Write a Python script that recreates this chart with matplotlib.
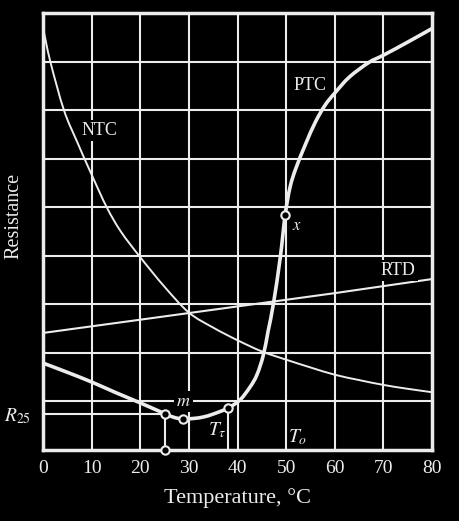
import matplotlib
matplotlib.use("Agg")
import matplotlib.pyplot as plt
from matplotlib.path import Path
from matplotlib.patches import PathPatch

plt.rcParams['font.family'] = ['Liberation Serif', 'DejaVu Serif']
plt.rcParams['mathtext.fontset'] = 'stix'

# ---- data ----
ntc_t = [0, 1.5, 4.3, 7, 10, 13.1, 16, 20, 25, 30, 35, 40, 45, 50, 55, 60, 65, 70, 75, 80]
ntc_r = [8.7, 8.0, 7.0, 6.35, 5.67, 5.0, 4.5, 3.97, 3.36, 2.83, 2.52, 2.26, 2.03, 1.86, 1.70, 1.55, 1.44, 1.34, 1.26, 1.19]

rtd_t = [0, 30, 60, 80]
rtd_r = [2.41, 2.82, 3.23, 3.52]

ptc_t = [0, 5, 10, 15, 20, 25, 27, 28.8, 31, 33, 35, 38, 40.5, 42.6, 44, 45.3, 46.3, 47.4,
         48.8, 49.8, 50.8, 52, 54, 56, 58, 60, 63, 67, 70, 75, 80]
ptc_r = [1.79, 1.60, 1.40, 1.18, 0.97, 0.75, 0.67, 0.64, 0.65, 0.68, 0.74, 0.86, 1.03, 1.30, 1.55,
         1.95, 2.45, 3.02, 3.97, 4.84, 5.41, 5.80, 6.30, 6.75, 7.10, 7.35, 7.68, 7.98, 8.13, 8.40, 8.68]

x_ticks = [0, 10, 20, 30, 40, 50, 60, 70, 80]
y_grid = [1, 2, 3, 4, 5, 6, 7, 8]

t25, r25 = 25, 0.75
t_m, r_m = 28.8, 0.64
t_tau, r_tau = 38, 0.86
t_x, r_x = 49.8, 4.84

fg = '#ececec'


def smooth_path(xs, ys):
    """Catmull-Rom curve through the given points, as cubic Bezier path."""
    pts = list(zip(xs, ys))
    n = len(pts)
    verts = [pts[0]]
    codes = [Path.MOVETO]
    for i in range(n - 1):
        p0 = pts[i - 1] if i > 0 else pts[i]
        p1 = pts[i]
        p2 = pts[i + 1]
        p3 = pts[i + 2] if i + 2 < n else pts[i + 1]
        c1 = (p1[0] + (p2[0] - p0[0]) / 6.0, p1[1] + (p2[1] - p0[1]) / 6.0)
        c2 = (p2[0] - (p3[0] - p1[0]) / 6.0, p2[1] - (p3[1] - p1[1]) / 6.0)
        verts += [c1, c2, p2]
        codes += [Path.CURVE4] * 3
    return Path(verts, codes)


fig = plt.figure(figsize=(4.59, 5.21), dpi=100, facecolor='black')
ax = fig.add_axes([0.0937, 0.1363, 0.8475, 0.8388], facecolor='black')
ax.set_xlim(0, 80)
ax.set_ylim(0, 9)

for t in x_ticks[1:-1]:
    ax.axvline(t, color=fg, lw=1.5, zorder=1)
for r in y_grid:
    ax.axhline(r, color=fg, lw=1.5, zorder=1)

for s in ax.spines.values():
    s.set_color(fg)
    s.set_linewidth(2.5)

ax.set_xticks(x_ticks)
ax.set_xticklabels([str(t) for t in x_ticks])
ax.set_yticks([])
ax.tick_params(axis='x', length=0, colors=fg, labelsize=14, pad=7)

ax.add_patch(PathPatch(smooth_path(ntc_t, ntc_r), fc='none', ec=fg, lw=1.4, zorder=3))
ax.plot(rtd_t, rtd_r, color=fg, lw=1.5, zorder=3)
ax.add_patch(PathPatch(smooth_path(ptc_t, ptc_r), fc='none', ec=fg, lw=2.6, zorder=4,
                       capstyle='round'))

# reference lines
ax.plot([0, t25], [r25, r25], color=fg, lw=1.5, zorder=2)
ax.plot([t25, t25], [0, r25], color=fg, lw=1.5, zorder=2)
ax.plot([t_tau, t_tau], [0, r_tau], color=fg, lw=1.5, zorder=2)

mk = dict(marker='o', ms=6, mfc='black', mec=fg, mew=1.5, ls='none', zorder=6, clip_on=False)
ax.plot([t25, t_m, t_tau, t_x, t25], [r25, r_m, r_tau, r_x, 0], **mk)

bb = dict(facecolor='black', edgecolor='none', pad=1.5)
ax.text(11.7, 6.58, 'NTC', color=fg, fontsize=13, ha='center', va='center', bbox=bb, zorder=5)
ax.text(55, 7.51, 'PTC', color=fg, fontsize=13, ha='center', va='center', bbox=bb, zorder=5)
ax.text(73, 3.70, 'RTD', color=fg, fontsize=13, ha='center', va='center', bbox=bb, zorder=5)
ax.text(52.3, 4.62, r'$x$', color=fg, fontsize=12, ha='center', va='center', zorder=5)
ax.text(28.8, 1.0, r'$m$', color=fg, fontsize=13, ha='center', va='center', bbox=bb, zorder=5)
ax.text(35.8, 0.40, r'$T_\tau$', color=fg, fontsize=14, ha='center', va='center', zorder=5)
ax.text(52.3, 0.26, r'$T_o$', color=fg, fontsize=14, ha='center', va='center', zorder=5)
ax.text(-2.5, r25 - 0.05, r'$R_{25}$', color=fg, fontsize=14, ha='right', va='center', zorder=5)

ax.set_xlabel('Temperature, °C', color=fg, fontsize=16, labelpad=8)
fig.text(0.030, 0.585, 'Resistance', color=fg, fontsize=14.5, rotation=90, ha='center', va='center')

fig.savefig('out.png', dpi=100, facecolor='black')
